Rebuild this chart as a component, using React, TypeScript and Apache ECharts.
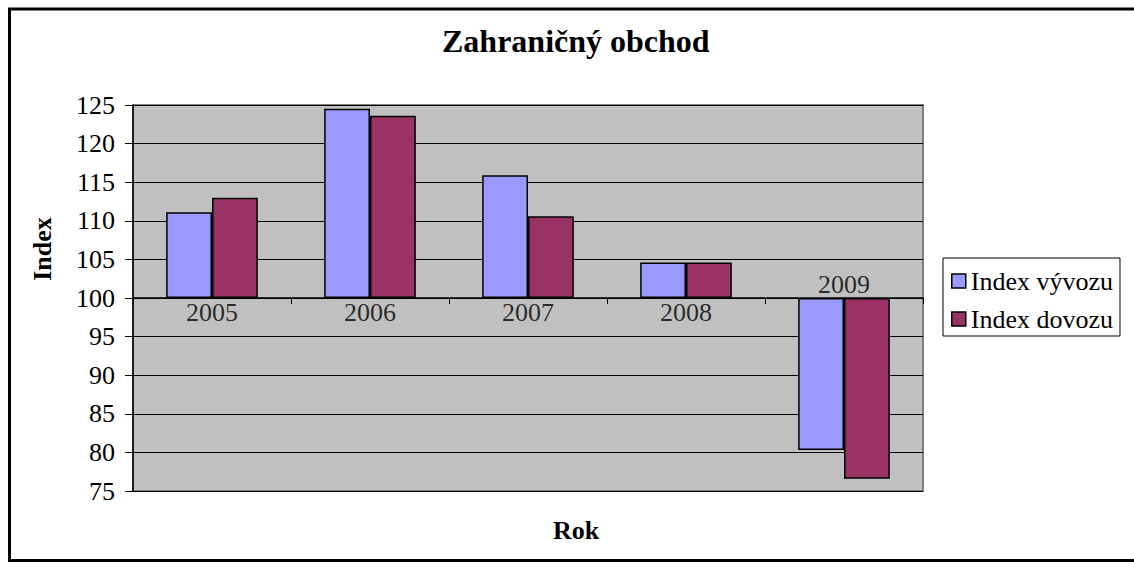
import React, { useEffect, useRef } from 'react';
import * as echarts from 'echarts';

const years = ['2005', '2006', '2007', '2008', '2009'];
const exportIndex = [111.1, 124.5, 115.9, 104.6, 80.3];
const importIndex = [113.0, 123.6, 110.6, 104.6, 76.6];
const seriesNames = ['Index vývozu', 'Index dovozu'];
const baseline = 100;
const yMin = 75;
const yMax = 125;
const yStep = 5;

const FONT = 'Liberation Serif';

export default function App() {
  const ref = useRef<HTMLDivElement>(null);

  useEffect(() => {
    if (!ref.current) return;
    const chart = echarts.init(ref.current, undefined, { renderer: 'svg' });
    const below = (i: number) => exportIndex[i] < baseline && importIndex[i] < baseline;
    const option: any = {
      animation: false,
      backgroundColor: '#ffffff',
      textStyle: { fontFamily: FONT },
      title: [
        {
          text: 'Zahraničný obchod',
          left: 437,
          top: 20,
          textStyle: { fontFamily: FONT, fontSize: 32, fontWeight: 'bold', color: '#000' },
        },
        {
          text: 'Rok',
          left: 548,
          top: 512,
          textStyle: { fontFamily: FONT, fontSize: 26, fontWeight: 'bold', color: '#000' },
        },
      ],
      legend: {
        orient: 'vertical',
        left: 943,
        top: 258,
        padding: [8, 7, 2, 8],
        itemGap: 8,
        itemWidth: 14,
        itemHeight: 14,
        icon: 'rect',
        borderColor: '#000',
        borderWidth: 1,
        backgroundColor: '#fff',
        textStyle: { fontFamily: FONT, fontSize: 26, color: '#000', lineHeight: 30 },
        itemStyle: { borderColor: '#000', borderWidth: 1.5 },
        data: seriesNames,
      },
      graphic: [
        {
          type: 'rect',
          silent: true,
          z: 100,
          shape: { x: 9.5, y: 9, width: 1140, height: 551.5 },
          style: { fill: 'none', stroke: '#000', lineWidth: 3 },
        },
        {
          type: 'text',
          silent: true,
          x: 42,
          y: 249,
          rotation: Math.PI / 2,
          style: {
            text: 'Index',
            fontFamily: FONT,
            fontSize: 26,
            fontWeight: 'bold',
            fill: '#000',
            align: 'center',
            verticalAlign: 'middle',
          },
        },
      ],
      grid: {
        left: 133,
        top: 105,
        right: 211,
        bottom: 71,
        show: true,
        backgroundColor: '#C0C0C0',
        borderColor: '#808080',
        borderWidth: 2,
      },
      xAxis: {
        type: 'category',
        data: years,
        axisLine: { onZero: true, lineStyle: { color: '#000', width: 1.5 } },
        axisTick: { show: true, length: 6, lineStyle: { color: '#000', width: 1 } },
        axisLabel: { show: false },
      },
      yAxis: {
        type: 'value',
        min: yMin - baseline,
        max: yMax - baseline,
        interval: yStep,
        axisLine: { show: true, onZero: false, lineStyle: { color: '#000', width: 1.5 } },
        axisTick: { show: true, length: 8, lineStyle: { color: '#000', width: 1 } },
        axisLabel: {
          margin: 18,
          fontFamily: FONT,
          fontSize: 26,
          color: '#000',
          formatter: (v: number) => String(v + baseline),
        },
        splitLine: { show: true, lineStyle: { color: '#000', width: 1 } },
      },
      series: [
        {
          name: seriesNames[0],
          type: 'bar',
          data: exportIndex.map((v) => +(v - baseline).toFixed(2)),
          barGap: '0%',
          barCategoryGap: '42%',
          itemStyle: { color: '#9999FF', borderColor: '#000', borderWidth: 1.5 },
        },
        {
          name: seriesNames[1],
          type: 'bar',
          data: importIndex.map((v) => +(v - baseline).toFixed(2)),
          barGap: '0%',
          barCategoryGap: '42%',
          itemStyle: { color: '#993366', borderColor: '#000', borderWidth: 1.5 },
        },
        {
          name: 'categoryLabels',
          type: 'scatter',
          silent: true,
          symbolSize: 0,
          z: 5,
          data: years.map((y, i) => ({
            value: [y, 0],
            label: { position: below(i) ? 'top' : 'bottom' },
          })),
          label: {
            show: true,
            distance: 1,
            fontFamily: FONT,
            fontSize: 26,
            color: '#000',
            formatter: (p: any) => years[p.dataIndex],
          },
        },
      ],
    };
    chart.setOption(option);
    return () => chart.dispose();
  }, []);

  return (
    <div
      ref={ref}
      style={{ position: 'absolute', left: 0, top: 0, width: 1134, height: 562 }}
    />
  );
}
